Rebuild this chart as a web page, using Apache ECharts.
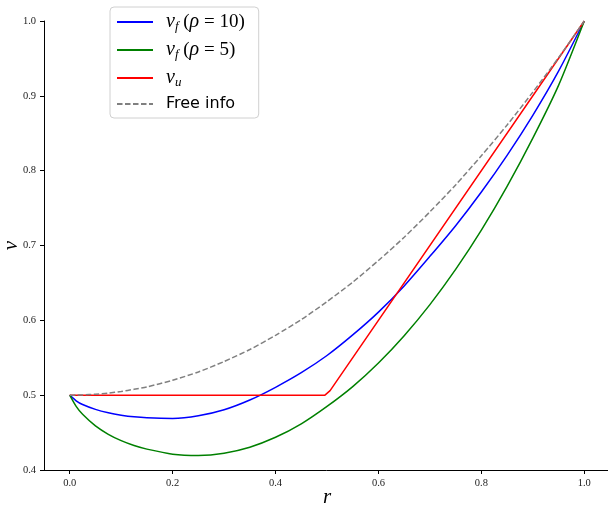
<!DOCTYPE html>
<html>
<head>
<meta charset="utf-8">
<script src="https://cdn.jsdelivr.net/npm/echarts@6/dist/echarts.min.js"></script>
<style>
  html, body { margin: 0; padding: 0; background: #fff; }
  #chart { width: 608px; height: 505px; }
</style>
</head>
<body>
<div id="chart"></div>
<script>
// r grid shared by the smooth curves (denser near 0 where they bend sharply)
const rValues = [0, 0.0125, 0.025, 0.05, 0.075, 0.1, 0.125, 0.15, 0.2, 0.25, 0.3, 0.35, 0.4, 0.45,
                 0.5, 0.55, 0.6, 0.65, 0.7, 0.75, 0.8, 0.85, 0.9, 0.95, 1.0];
const vfRho10 = [0.5, 0.4925, 0.4875, 0.481, 0.4765, 0.4733, 0.471, 0.4697, 0.4689, 0.4724, 0.4805, 0.4935, 0.5105, 0.530,
                 0.553, 0.5805, 0.611, 0.646, 0.6855, 0.7265, 0.7715, 0.8205, 0.874, 0.933, 1.0];
const vfRho5 = [0.5, 0.485, 0.4744, 0.4589, 0.4477, 0.4392, 0.4327, 0.4279, 0.4212, 0.4195, 0.4225, 0.4305, 0.4437, 0.4617,
                0.485, 0.5115, 0.543, 0.5795, 0.621, 0.668, 0.7205, 0.779, 0.8435, 0.914, 1.0];
const freeInfo = [0.5, 0.5001, 0.5003, 0.5013, 0.5028, 0.505, 0.5078, 0.511, 0.52, 0.531, 0.545, 0.561, 0.58, 0.601,
                  0.625, 0.651, 0.68, 0.711, 0.745, 0.781, 0.82, 0.861, 0.905, 0.951, 1.0];
// v_u is piecewise: flat then rising
const vuR = [0, 0.496, 0.506, 1.0];
const vuV = [0.5, 0.5, 0.506, 1.0];

const xTicks = [0, 0.2, 0.4, 0.6, 0.8, 1.0];

const pair = (xs, ys) => xs.map((x, i) => [x, ys[i]]);

const legendText = {
  vf10: '{it|v}{sub|f} ({it|ρ} = 10)',
  vf5: '{it|v}{sub|f} ({it|ρ} = 5)',
  vu: '{it|v}{sub|u}',
  'Free info': '{sans|Free info}'
};

const serif = 'Liberation Serif';

const chart = echarts.init(document.getElementById('chart'), null, { renderer: 'canvas' });

const lineSeries = (name, data, color, extra) => Object.assign({
  name: name,
  type: 'line',
  data: data,
  symbol: 'none',
  showSymbol: false,
  smooth: 0.25,
  clip: true,
  lineStyle: { color: color, width: 1.5 },
  itemStyle: { color: color },
  z: 3
}, extra || {});

chart.setOption({
  animation: false,
  backgroundColor: '#fff',
  grid: { left: 44, right: -2, top: 21, bottom: 35, outerBoundsMode: 'none', containLabel: false },
  xAxis: {
    type: 'value',
    min: -0.05,
    max: 1.05,
    name: 'r',
    nameLocation: 'middle',
    nameGap: 17,
    nameMoveOverlap: false,
    nameTextStyle: { fontFamily: serif, fontStyle: 'italic', fontSize: 21, color: '#000' },
    splitLine: { show: false },
    axisLine: { onZero: false, lineStyle: { color: '#000', width: 1 } },
    axisTick: { customValues: xTicks, length: 4, lineStyle: { color: '#000' } },
    axisLabel: {
      customValues: xTicks,
      formatter: v => v.toFixed(1),
      fontFamily: serif, fontSize: 10.5, color: '#222', margin: 8
    }
  },
  yAxis: {
    type: 'value',
    min: 0.4,
    max: 1.0,
    interval: 0.1,
    name: 'v',
    nameLocation: 'middle',
    nameRotate: 90,
    nameGap: 22,
    nameMoveOverlap: false,
    nameTextStyle: { fontFamily: serif, fontStyle: 'italic', fontSize: 21, color: '#000' },
    splitLine: { show: false },
    axisLine: { show: true, onZero: false, lineStyle: { color: '#000', width: 1 } },
    axisTick: { show: true, length: 4, lineStyle: { color: '#000' } },
    axisLabel: {
      formatter: v => v.toFixed(1),
      fontFamily: serif, fontSize: 10.5, color: '#222', margin: 8
    }
  },
  legend: {
    orient: 'vertical',
    left: 110,
    top: 7,
    padding: [5, 14, 6, 6],
    itemGap: 7,
    itemWidth: 36,
    itemHeight: 14,
    backgroundColor: '#fff',
    borderColor: '#d0d0d0',
    borderWidth: 1,
    borderRadius: 4,
    itemStyle: { color: 'rgba(0,0,0,0)', borderWidth: 0, opacity: 0 },
    data: ['vf10', 'vf5', 'vu', 'Free info'],
    formatter: name => legendText[name],
    textStyle: {
      fontSize: 19,
      fontFamily: serif,
      color: '#000',
      padding: [0, 0, 0, 8],
      rich: {
        it: { fontFamily: serif, fontStyle: 'italic', fontSize: 20, color: '#000' },
        sub: { fontFamily: serif, fontStyle: 'italic', fontSize: 13, color: '#000', padding: [9, 0, 0, 0] },
        sans: { fontFamily: 'DejaVu Sans', fontSize: 16, color: '#000' }
      }
    }
  },
  series: [
    lineSeries('vf10', pair(rValues, vfRho10), '#0000ff'),
    lineSeries('vf5', pair(rValues, vfRho5), '#008000'),
    lineSeries('vu', pair(vuR, vuV), '#ff0000', { smooth: false }),
    lineSeries('Free info', pair(rValues, freeInfo), '#808080', {
      lineStyle: { color: '#808080', width: 1.5, type: [5.5, 2.5] }
    })
  ]
});
</script>
</body>
</html>
